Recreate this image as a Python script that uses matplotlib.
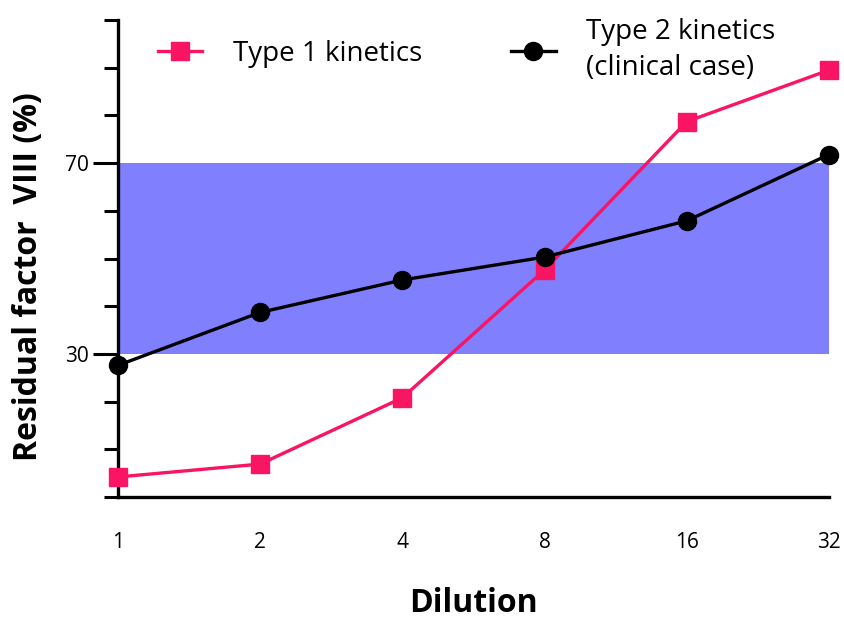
import matplotlib
matplotlib.use("Agg")
import matplotlib.pyplot as plt
import numpy as np

dilutions = ["1", "2", "4", "8", "16", "32"]
type1 = [4.2, 6.9, 20.8, 47.6, 78.7, 89.5]
type2 = [27.6, 38.7, 45.5, 50.3, 57.9, 71.8]
band_low, band_high = 30, 70

plt.rcParams['font.family'] = ['Open Sans', 'DejaVu Sans']

fig = plt.figure(figsize=(8.45, 6.2), dpi=100)
ax = fig.add_axes([0.1396, 0.1984, 0.8414, 0.7693])

x = np.arange(len(dilutions))
ax.axhspan(band_low, band_high, xmin=0, xmax=1, color='#8080ff', lw=0, zorder=1)
ax.plot(x, type1, color='#fa1464', lw=2.4, marker='s', markersize=13,
        label='Type 1 kinetics', clip_on=False, zorder=3)
ax.plot(x, type2, color='black', lw=2.4, marker='o', markersize=13,
        label='Type 2 kinetics\n(clinical case)', clip_on=False, zorder=4)

ax.set_xlim(0, 5)
ax.set_ylim(0, 100)
ax.set_xticks(x)
ax.set_xticklabels(dilutions, fontsize=15)
ax.tick_params(axis='x', length=0, pad=25)
ax.set_yticks([30, 70])
ax.set_yticks(np.arange(0, 101, 10), minor=True)
ax.tick_params(axis='y', which='major', length=18, width=2.2, labelsize=15, pad=3)
ax.tick_params(axis='y', which='minor', length=10, width=2.2)

for s in ['top', 'right']:
    ax.spines[s].set_visible(False)
for s in ['left', 'bottom']:
    ax.spines[s].set_linewidth(2.4)

ax.set_xlabel('Dilution', fontsize=23, fontweight='bold', labelpad=25)
ax.set_ylabel('Residual factor  VIII (%)', fontsize=23, fontweight='bold')
ax.yaxis.set_label_coords(-0.103, 0.461)

leg = fig.legend(loc='center left', bbox_to_anchor=(158 / 845, 1 - 50 / 620),
                 bbox_transform=fig.transFigure, ncol=2, frameon=False,
                 fontsize=20, handlelength=1.6, handletextpad=1.1, columnspacing=3.2,
                 borderpad=0, borderaxespad=0)
for t in leg.get_texts():
    t.set_linespacing(1.35)

fig.savefig('out.png', dpi=100)
